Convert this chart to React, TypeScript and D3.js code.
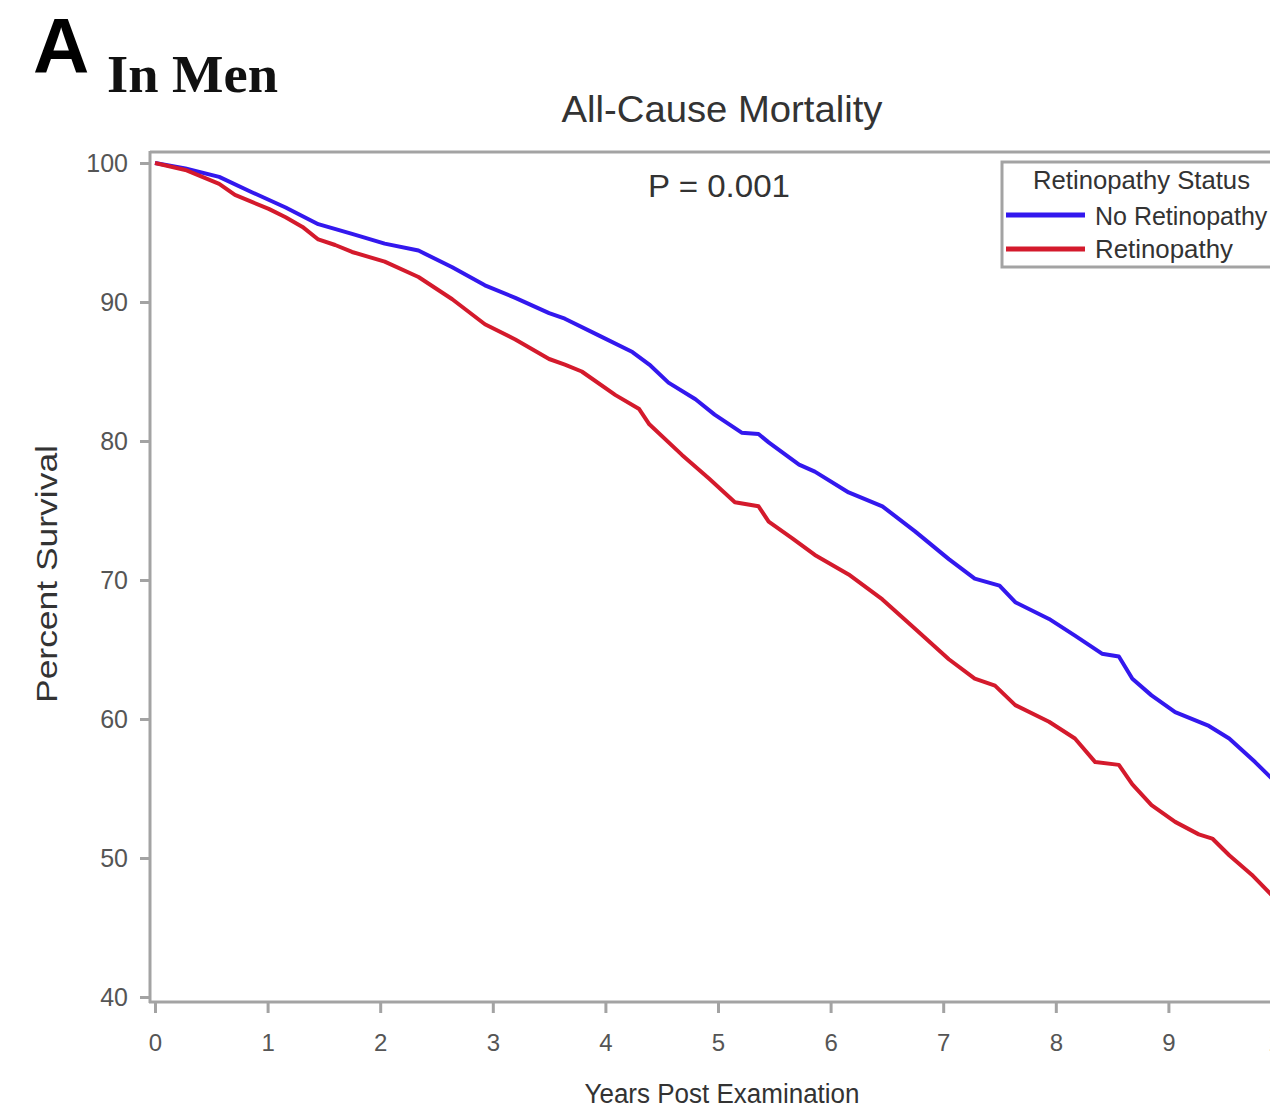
import React, { useEffect, useRef } from 'react';
import * as d3 from 'd3';

// Kaplan-Meier survival: [years post examination, percent survival]
const noRetinopathy: [number, number][] = [
  [0, 100], [0.27, 99.6], [0.57, 99.0], [0.86, 97.9], [1.16, 96.8], [1.45, 95.6],
  [1.75, 94.9], [2.04, 94.2], [2.34, 93.7], [2.64, 92.5], [2.93, 91.2], [3.2, 90.3],
  [3.5, 89.2], [3.64, 88.8], [3.94, 87.6], [4.24, 86.4], [4.39, 85.5], [4.56, 84.2],
  [4.8, 83.0], [4.97, 81.9], [5.21, 80.6], [5.36, 80.5], [5.45, 79.9], [5.72, 78.3],
  [5.86, 77.8], [6.16, 76.3], [6.46, 75.3], [6.75, 73.5], [7.05, 71.5], [7.28, 70.1],
  [7.5, 69.6], [7.64, 68.4], [7.94, 67.2], [8.17, 66.0], [8.41, 64.7], [8.56, 64.5],
  [8.68, 62.9], [8.85, 61.7], [9.06, 60.5], [9.36, 59.5], [9.54, 58.6], [9.77, 56.9],
  [9.92, 55.7],
];

const retinopathy: [number, number][] = [
  [0, 100], [0.27, 99.5], [0.57, 98.5], [0.71, 97.7], [0.86, 97.2], [1.01, 96.7],
  [1.16, 96.1], [1.31, 95.4], [1.45, 94.5], [1.6, 94.1], [1.75, 93.6], [2.04, 92.9],
  [2.34, 91.8], [2.64, 90.2], [2.93, 88.4], [3.2, 87.3], [3.5, 85.9], [3.64, 85.5],
  [3.79, 85.0], [4.09, 83.3], [4.3, 82.3], [4.39, 81.2], [4.68, 79.0], [4.92, 77.3],
  [5.15, 75.6], [5.36, 75.3], [5.45, 74.2], [5.66, 73.0], [5.86, 71.8], [6.16, 70.4],
  [6.46, 68.6], [6.75, 66.5], [7.05, 64.3], [7.28, 62.9], [7.46, 62.4], [7.64, 61.0],
  [7.94, 59.8], [8.17, 58.6], [8.35, 56.9], [8.56, 56.7], [8.68, 55.3], [8.85, 53.8],
  [9.06, 52.6], [9.27, 51.7], [9.39, 51.4], [9.54, 50.2], [9.74, 48.8], [9.92, 47.3],
];

const xTicks = [0, 1, 2, 3, 4, 5, 6, 7, 8, 9, 10];
const yTicks = [40, 50, 60, 70, 80, 90, 100];
const legendTitle = 'Retinopathy Status';
const seriesNames = ['No Retinopathy', 'Retinopathy'];

const W = 1270;
const H = 1111;
const BLUE = '#3318ee';
const RED = '#d41a2c';
const FRAME = '#a3a3a3';
const SANS = '"Liberation Sans", Arial, sans-serif';

export default function App() {
  const xAxisRef = useRef<SVGGElement>(null);
  const yAxisRef = useRef<SVGGElement>(null);

  const x = d3.scaleLinear().domain([0, 10]).range([155, 1281]);
  const y = d3.scaleLinear().domain([40, 100]).range([997, 163]);

  const line = d3.line<[number, number]>()
    .x(d => x(d[0]))
    .y(d => y(d[1]));

  useEffect(() => {
    const gx = d3.select(xAxisRef.current);
    gx.call(d3.axisBottom(x).tickValues(xTicks).tickSize(11).tickPadding(21).tickFormat(d3.format('d')) as any);
    gx.select('.domain').remove();
    gx.selectAll('line').attr('stroke', FRAME).attr('stroke-width', 3);
    gx.selectAll('text').attr('fill', '#555').attr('font-size', 24).attr('font-family', SANS);

    const gy = d3.select(yAxisRef.current);
    gy.call(d3.axisLeft(y).tickValues(yTicks).tickSize(10).tickPadding(12) as any);
    gy.select('.domain').remove();
    gy.selectAll('line').attr('stroke', FRAME).attr('stroke-width', 3);
    gy.selectAll('text').attr('fill', '#555').attr('font-size', 25).attr('font-family', SANS);
  }, []);

  return (
    <svg width={W} height={H} style={{ position: 'absolute', left: 0, top: 0, background: '#fff' }}>
      {/* panel label */}
      <text x={33} y={73} fontFamily={SANS} fontWeight="bold" fontSize={78} fill="#000">A</text>
      <text x={107} y={92} fontFamily={'"Liberation Serif", "Times New Roman", serif'} fontWeight="bold" fontSize={52}
        fill="#111" textLength={171} lengthAdjust="spacingAndGlyphs">In Men</text>

      <text x={722} y={122} textAnchor="middle" fontFamily={SANS} fontSize={36} fill="#333"
        textLength={321} lengthAdjust="spacingAndGlyphs">All-Cause Mortality</text>

      {/* frame */}
      <line x1={150} x2={W} y1={152} y2={152} stroke={FRAME} strokeWidth={3} />
      <line x1={150} x2={150} y1={151} y2={1003} stroke={FRAME} strokeWidth={3} />
      <line x1={149} x2={W} y1={1002} y2={1002} stroke={FRAME} strokeWidth={3} />

      <g ref={yAxisRef} transform="translate(150,0)" />
      <g ref={xAxisRef} transform="translate(0,1002)" />

      <text x={719} y={197} textAnchor="middle" fontFamily={SANS} fontSize={32} fill="#333"
        textLength={142} lengthAdjust="spacingAndGlyphs">P = 0.001</text>

      <path d={line(noRetinopathy) || ''} fill="none" stroke={BLUE} strokeWidth={4} strokeLinejoin="round" />
      <path d={line(retinopathy) || ''} fill="none" stroke={RED} strokeWidth={4} strokeLinejoin="round" />

      {/* legend */}
      <rect x={1002} y={162} width={320} height={105} fill="#fff" stroke={FRAME} strokeWidth={3} />
      <text x={1033} y={189} fontFamily={SANS} fontSize={25} fill="#333"
        textLength={217} lengthAdjust="spacingAndGlyphs">{legendTitle}</text>
      <line x1={1006} x2={1085} y1={215} y2={215} stroke={BLUE} strokeWidth={5} />
      <text x={1095} y={225} fontFamily={SANS} fontSize={25} fill="#333">{seriesNames[0]}</text>
      <line x1={1006} x2={1085} y1={249} y2={249} stroke={RED} strokeWidth={5} />
      <text x={1095} y={258} fontFamily={SANS} fontSize={25} fill="#333"
        textLength={138} lengthAdjust="spacingAndGlyphs">{seriesNames[1]}</text>

      <text transform="translate(57,574) rotate(-90)" textAnchor="middle" fontFamily={SANS} fontSize={30} fill="#333"
        textLength={258} lengthAdjust="spacingAndGlyphs">Percent Survival</text>
      <text x={722} y={1103} textAnchor="middle" fontFamily={SANS} fontSize={27} fill="#333"
        textLength={275} lengthAdjust="spacingAndGlyphs">Years Post Examination</text>
    </svg>
  );
}
